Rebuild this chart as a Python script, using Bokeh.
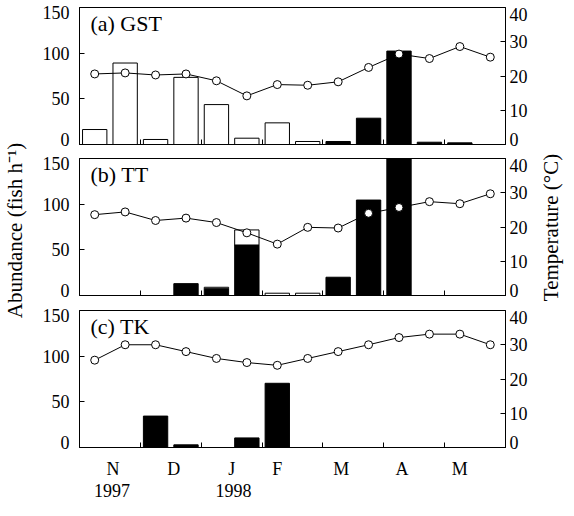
import math
from bokeh.plotting import figure
from bokeh.models import Range1d, LinearAxis, FixedTicker, Label
from bokeh.layouts import column, row
from bokeh.embed import file_html
from bokeh.resources import INLINE

# ---- data ----
samples = list(range(14))  # semi-monthly sampling, Nov 1997 - May 1998

gst_open = [16.4, 89.2, 5.5, 73.5, 43.7, 6.9, 23.7, 3.3, 0, 0, 0, 0, 0, 0]
gst_solid = [0, 0, 0, 0, 0, 0, 0, 0, 3.3, 28.8, 102.3, 2.5, 1.8, 0]
gst_temp = [20.6, 20.9, 20.3, 20.6, 18.6, 14.2, 17.5, 17.3, 18.3, 22.5, 26.4, 25.1, 28.6, 25.5]

tt_open = [0, 0, 0, 0, 1.5, 16.5, 2.5, 2.5, 0, 0, 0, 0, 0, 0]
tt_solid = [0, 0, 0, 13.0, 7.5, 55.3, 0, 0, 20.0, 104.5, 165.0, 0, 0, 0]
tt_temp = [23.6, 24.4, 21.9, 22.6, 21.3, 18.3, 15.0, 19.9, 19.7, 24.0, 25.7, 27.4, 26.8, 29.7]

tk_open = [0] * 14
tk_solid = [0, 0, 34.4, 2.9, 0, 10.5, 70.3, 0, 0, 0, 0, 0, 0, 0]
tk_temp = [25.5, 30.0, 30.0, 28.0, 26.0, 24.8, 24.0, 26.0, 28.0, 30.0, 32.1, 33.1, 33.1, 30.0]

month_labels = ["N", "D", "J", "F", "M", "A", "M"]
month_pos = [0.6, 2.6, 4.5, 6.0, 8.1, 10.1, 12.0]
year_labels = ["1997", "1998"]
year_pos = [0.57, 4.56]
month_bounds = [1.5, 3.5, 5.5, 7.5, 9.5, 11.5]

abund_ticks = [0, 50, 100, 150]
abund_labels = ["0", "50", "100", "150"]
abund_label_at = [6, 50, 100, 144]      # end labels are set inside the frame, as in the reference
temp_ticks = [0, 10, 20, 30, 40]
temp_labels = ["0", "10", "20", "30", "40"]
temp_label_at = [1.5, 10, 20, 30, 38]

FONT = "Liberation Serif"
TICK_SIZE = "18px"
LEFT_B, RIGHT_B = 49, 24
PANEL_W = LEFT_B + 427 + RIGHT_B
LEFT_W, RIGHT_W = 30, 34


def tick_axis(ticks, **kw):
    ax = LinearAxis(ticker=FixedTicker(ticks=[], minor_ticks=ticks), **kw)
    ax.minor_tick_in = 5
    ax.minor_tick_out = 0
    ax.minor_tick_line_color = "black"
    ax.major_tick_in = 0
    ax.major_tick_out = 0
    ax.major_label_standoff = 0
    ax.axis_line_color = "black"
    return ax


def label_axis(positions, texts, standoff, **kw):
    ax = LinearAxis(ticker=FixedTicker(ticks=positions),
                    major_label_overrides={p: t for p, t in zip(positions, texts)}, **kw)
    ax.major_label_text_font = FONT
    ax.major_label_text_font_size = TICK_SIZE
    ax.major_label_text_color = "black"
    ax.major_tick_line_color = None
    ax.minor_tick_line_color = None
    ax.major_tick_in = 0
    ax.major_tick_out = 0
    ax.axis_line_color = None
    ax.major_label_standoff = standoff
    return ax


def panel(title, open_vals, solid_vals, temp_vals, height, btop, bbottom, bottom_labels=False):
    p = figure(width=PANEL_W, height=height, x_range=Range1d(-0.5, 13.5),
               y_range=Range1d(abund_ticks[0], abund_ticks[-1]),
               x_axis_type=None, y_axis_type=None,
               min_border_left=LEFT_B, min_border_right=RIGHT_B,
               min_border_top=btop, min_border_bottom=bbottom,
               output_backend="svg", toolbar_location=None)
    p.extra_y_ranges = {"temp": Range1d(temp_ticks[0], temp_ticks[-1])}
    p.grid.visible = False
    p.outline_line_color = "black"
    p.outline_line_width = 1
    p.background_fill_color = "white"
    p.border_fill_color = "white"

    p.add_layout(tick_axis(abund_ticks), "left")
    p.add_layout(label_axis(abund_label_at, abund_labels, 10), "left")
    p.add_layout(tick_axis(temp_ticks, y_range_name="temp"), "right")
    p.add_layout(label_axis(temp_label_at, temp_labels, 4, y_range_name="temp"), "right")
    p.add_layout(tick_axis(month_bounds), "below")

    if bottom_labels:
        p.add_layout(label_axis(month_pos, month_labels, 11), "below")
        p.add_layout(label_axis(year_pos, year_labels, 2), "below")

    # solid bars (bottom part)
    xs = [x for x, s in zip(samples, solid_vals) if s > 0]
    ss = [s for s in solid_vals if s > 0]
    if xs:
        p.vbar(x=xs, width=0.8, bottom=0, top=ss, fill_color="black",
               line_color="black", line_width=1)
    # open bars stacked on top
    ox, ob, ot = [], [], []
    for x, o, s in zip(samples, open_vals, solid_vals):
        if o > 0:
            ox.append(x)
            ob.append(s)
            ot.append(s + o)
    if ox:
        p.vbar(x=ox, width=0.8, bottom=ob, top=ot, fill_color="white",
               line_color="black", line_width=1)

    p.line(samples, temp_vals, y_range_name="temp", line_color="black", line_width=1)
    p.scatter(samples, temp_vals, y_range_name="temp", size=8, marker="circle",
              fill_color="white", line_color="black", line_width=1)

    p.add_layout(Label(x=-0.14, y=133, text=title, text_font=FONT,
                       text_font_size="22px", text_baseline="middle",
                       text_align="left", text_color="black"))
    return p


def side_label(text, width, x, y):
    f = figure(width=width, height=500, x_range=Range1d(0, width), y_range=Range1d(0, 500),
               x_axis_type=None, y_axis_type=None, min_border=0,
               output_backend="svg", toolbar_location=None)
    f.outline_line_color = None
    f.grid.visible = False
    f.border_fill_color = "white"
    f.add_layout(Label(x=x, y=y, text=text, angle=math.pi / 2, text_font=FONT,
                       text_font_size="21px", text_align="center",
                       text_baseline="middle", text_color="black"))
    return f


pa = panel("(a) GST", gst_open, gst_solid, gst_temp, 149, 7, 5)
pb = panel("(b) TT", tt_open, tt_solid, tt_temp, 156, 9, 10)
pc = panel("(c) TK", tk_open, tk_solid, tk_temp, 195, 5, 53, bottom_labels=True)

left = side_label("Abundance (fish h\u207b\u00b9)", LEFT_W, 14, 270)
right = side_label("Temperature (\u00b0C)", RIGHT_W, 20, 273)

layout = row(left, column(pa, pb, pc, spacing=0), right, spacing=0)
open("out.html", "w").write(file_html(layout, INLINE))
